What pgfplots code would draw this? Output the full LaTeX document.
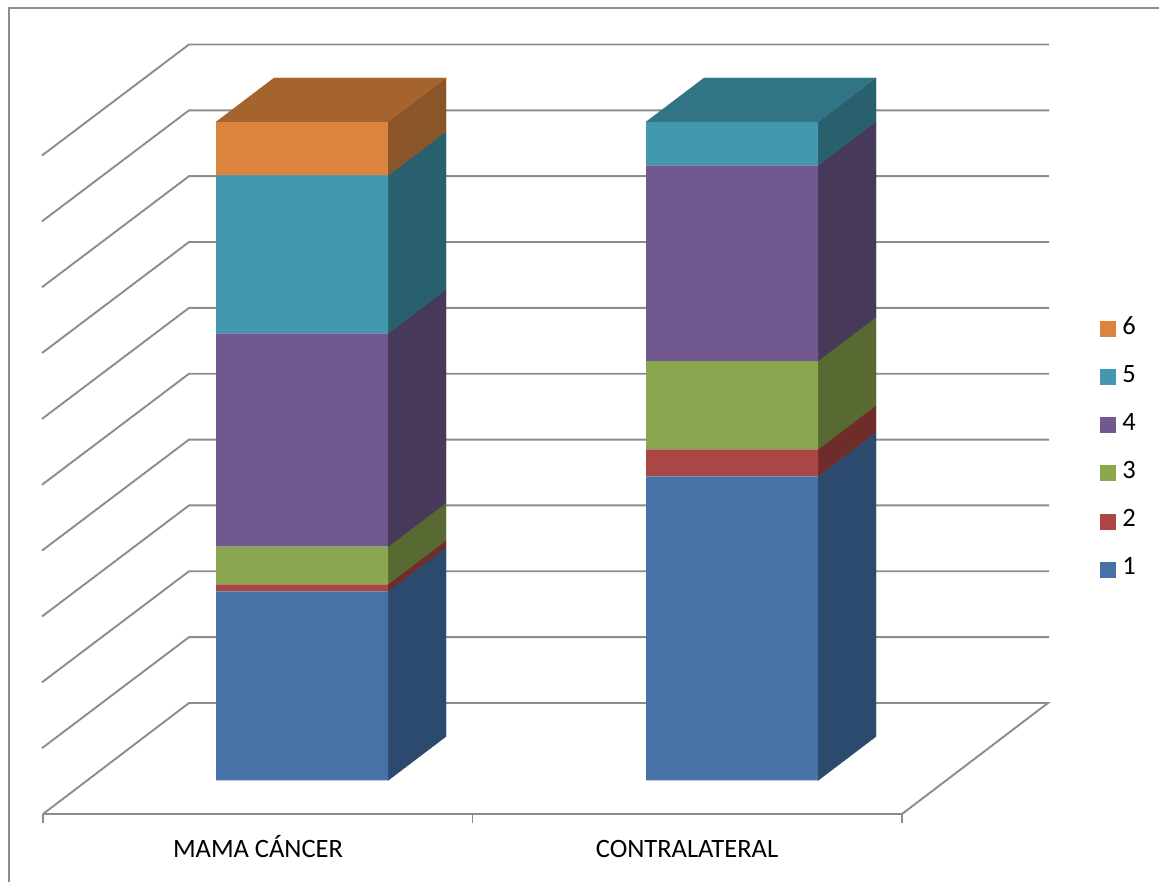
\documentclass[border=0pt]{standalone}
\usepackage{fontspec}
\setmainfont{Carlito}
\usepackage{pgfplots}
\pgfplotsset{compat=1.18}

\definecolor{frontA}{HTML}{4672A8}
\definecolor{frontB}{HTML}{AA4643}
\definecolor{frontC}{HTML}{8AA64F}
\definecolor{frontD}{HTML}{71588F}
\definecolor{frontE}{HTML}{4198AF}
\definecolor{frontF}{HTML}{DB843D}
\definecolor{sideA}{HTML}{2C4A6E}
\definecolor{sideB}{HTML}{6E2D2B}
\definecolor{sideC}{HTML}{586932}
\definecolor{sideD}{HTML}{47395A}
\definecolor{sideE}{HTML}{28606E}
\definecolor{sideF}{HTML}{8A5528}
\definecolor{topE}{HTML}{317486}
\definecolor{topF}{HTML}{A5642E}
\definecolor{gridgray}{HTML}{8C8C8C}

\pgfplotsset{
  canvas/.style={
    scale only axis, width=1159pt, height=882pt,
    xmin=0, xmax=1159, ymin=-15.414, ymax=118.527,
    axis lines=none, ticks=none, clip=true,
  },
  wall/.style={draw=gridgray, line width=1.9pt, mark=none, forget plot, line join=miter},
  face/.style={fill=#1, draw=#1, line width=0.3pt, mark=none, forget plot},
  swatch/.style={legend image code/.code={
    \fill[#1] (0pt,-2pt) rectangle (15pt,13pt);}},
}

\begin{document}
\begin{tikzpicture}
\useasboundingbox (0pt,0pt) rectangle (1159pt,882pt);
% Walls, floor, depth faces of the columns and the legend
\begin{axis}[canvas,
  legend style={at={(axis cs:1100,30.9)}, anchor=south west, draw=none, fill=none,
    inner sep=0pt, outer sep=0pt, row sep=27.9pt, column sep=7pt,
    nodes={inner sep=0pt, text height=18pt, text depth=0pt, anchor=base west},
    font=\fontsize{26.5}{26.5}\selectfont},
  legend cell align=left,
]
  % outer frame
  \addplot[wall, line width=2.2pt] coordinates {(9,-15.414) (9,117.31) (1159,117.31)};

  % floor and axis ticks
  \addplot[wall] coordinates {(43,-5.09) (189,11.77) (1048,11.77) (902,-5.09) (43,-5.09)};
  \addplot[wall] coordinates {(43,-5.09) (43,-6.5)};
  \addplot[wall] coordinates {(472.5,-5.09) (472.5,-6.5)};
  \addplot[wall] coordinates {(902,-5.09) (902,-6.5)};

  % gridlines across side wall and back wall
  \addplot[wall] coordinates {(42,4.91) (189,21.77) (1049,21.77)};
  \addplot[wall] coordinates {(42,14.91) (189,31.77) (1049,31.77)};
  \addplot[wall] coordinates {(42,24.91) (189,41.77) (1049,41.77)};
  \addplot[wall] coordinates {(42,34.91) (189,51.77) (1049,51.77)};
  \addplot[wall] coordinates {(42,44.91) (189,61.77) (1049,61.77)};
  \addplot[wall] coordinates {(42,54.91) (189,71.77) (1049,71.77)};
  \addplot[wall] coordinates {(42,64.91) (189,81.77) (1049,81.77)};
  \addplot[wall] coordinates {(42,74.91) (189,91.77) (1049,91.77)};
  \addplot[wall] coordinates {(42,84.91) (189,101.77) (1049,101.77)};
  \addplot[wall] coordinates {(42,94.91) (189,111.77) (1049,111.77)};

  % first column: side faces, bottom to top
  \addplot[face=sideA] coordinates {(388,0) (446,6.68) (446,35.38) (388,28.7)} --cycle;
  \addplot[face=sideB] coordinates {(388,28.7) (446,35.38) (446,36.48) (388,29.8)} --cycle;
  \addplot[face=sideC] coordinates {(388,29.8) (446,36.48) (446,42.18) (388,35.5)} --cycle;
  \addplot[face=sideD] coordinates {(388,35.5) (446,42.18) (446,74.58) (388,67.9)} --cycle;
  \addplot[face=sideE] coordinates {(388,67.9) (446,74.58) (446,98.58) (388,91.9)} --cycle;
  \addplot[face=sideF] coordinates {(388,91.9) (446,98.58) (446,106.68) (388,100)} --cycle;
  \addplot[face=topF] coordinates {(216,100) (388,100) (446,106.68) (274,106.68)} --cycle;

  % second column: side faces, bottom to top
  \addplot[face=sideA] coordinates {(818,0) (876,6.68) (876,52.88) (818,46.2)} --cycle;
  \addplot[face=sideB] coordinates {(818,46.2) (876,52.88) (876,56.98) (818,50.3)} --cycle;
  \addplot[face=sideC] coordinates {(818,50.3) (876,56.98) (876,70.38) (818,63.7)} --cycle;
  \addplot[face=sideD] coordinates {(818,63.7) (876,70.38) (876,100.08) (818,93.4)} --cycle;
  \addplot[face=sideE] coordinates {(818,93.4) (876,100.08) (876,106.68) (818,100)} --cycle;
  \addplot[face=topE] coordinates {(646,100) (818,100) (876,106.68) (704,106.68)} --cycle;

  % legend, top entry first
  \addlegendimage{swatch=frontF}\addlegendentry{6}
  \addlegendimage{swatch=frontE}\addlegendentry{5}
  \addlegendimage{swatch=frontD}\addlegendentry{4}
  \addlegendimage{swatch=frontC}\addlegendentry{3}
  \addlegendimage{swatch=frontB}\addlegendentry{2}
  \addlegendimage{swatch=frontA}\addlegendentry{1}

  % category names
  \node[anchor=base, font=\fontsize{26.5}{26.5}\selectfont] at (axis cs:258,-11.62) {MAMA CÁNCER};
  \node[anchor=base, font=\fontsize{26.5}{26.5}\selectfont] at (axis cs:687,-11.62) {CONTRALATERAL};
\end{axis}

% Front faces of the stacked columns
\begin{axis}[canvas, ybar stacked, bar width=172pt]
  \addplot[fill=frontA, draw=none] coordinates {(302,28.7) (732,46.2)};
  \addplot[fill=frontB, draw=none] coordinates {(302,1.1) (732,4.1)};
  \addplot[fill=frontC, draw=none] coordinates {(302,5.7) (732,13.4)};
  \addplot[fill=frontD, draw=none] coordinates {(302,32.4) (732,29.7)};
  \addplot[fill=frontE, draw=none] coordinates {(302,24.0) (732,6.6)};
  \addplot[fill=frontF, draw=none] coordinates {(302,8.1) (732,0)};
\end{axis}
\end{tikzpicture}
\end{document}
